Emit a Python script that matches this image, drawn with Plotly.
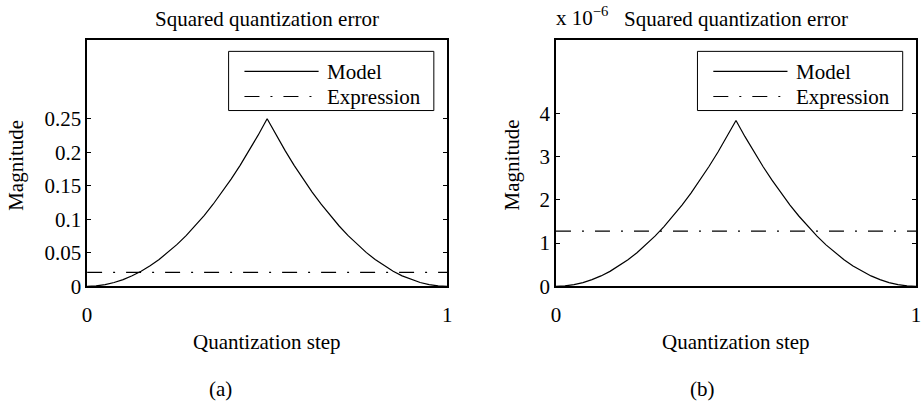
import plotly.graph_objects as go
from plotly.subplots import make_subplots

# ---- data ----
step = [0.0, 0.025, 0.05, 0.075, 0.1, 0.125, 0.15, 0.175, 0.2, 0.225, 0.25,
        0.275, 0.3, 0.325, 0.35, 0.375, 0.4, 0.425, 0.45, 0.475, 0.5,
        0.525, 0.55, 0.575, 0.6, 0.625, 0.65, 0.675, 0.7, 0.725, 0.75,
        0.775, 0.8, 0.825, 0.85, 0.875, 0.9, 0.925, 0.95, 0.975, 1.0]
model_a = [0.0, 0.0006, 0.0025, 0.0056, 0.01, 0.0156, 0.0225, 0.0306, 0.04, 0.0506, 0.0625,
           0.0756, 0.09, 0.1056, 0.1225, 0.1406, 0.16, 0.1806, 0.2025, 0.2256, 0.25,
           0.2256, 0.2025, 0.1806, 0.16, 0.1406, 0.1225, 0.1056, 0.09, 0.0756, 0.0625,
           0.0506, 0.04, 0.0306, 0.0225, 0.0156, 0.01, 0.0056, 0.0025, 0.0006, 0.0]
expr_a = [0.0208] * len(step)
# panel (b) values in units of 1e-6
model_b = [0.0, 0.0096, 0.0384, 0.0864, 0.1536, 0.24, 0.3456, 0.4704, 0.6144, 0.7776, 0.96,
           1.1616, 1.3824, 1.6224, 1.8816, 2.16, 2.4576, 2.7744, 3.1104, 3.4656, 3.84,
           3.4656, 3.1104, 2.7744, 2.4576, 2.16, 1.8816, 1.6224, 1.3824, 1.1616, 0.96,
           0.7776, 0.6144, 0.4704, 0.3456, 0.24, 0.1536, 0.0864, 0.0384, 0.0096, 0.0]
expr_b = [1.28] * len(step)

yticks_a = [0, 0.05, 0.1, 0.15, 0.2, 0.25]
yticktext_a = ["0", "0.05", "0.1", "0.15", "0.2", "0.25"]
yticks_b = [0, 1, 2, 3, 4]
yticktext_b = ["0", "1", "2", "3", "4"]
xticks = [0, 1]
xticktext = ["0", "1"]

title_text = "Squared quantization error"
xlabel = "Quantization step"
ylabel = "Magnitude"
legend_names = ["Model", "Expression"]
panel_labels = ["(a)", "(b)"]

W, H = 923, 406
FONT = "Liberation Serif, Times New Roman, serif"
FS = 21
DASH = "15px,11px,2px,11px"

fig = make_subplots(rows=1, cols=2)

fig.add_trace(go.Scatter(x=step, y=model_a, mode="lines", name=legend_names[0],
                         line=dict(color="black", width=1.2), showlegend=False), 1, 1)
fig.add_trace(go.Scatter(x=step, y=expr_a, mode="lines", name=legend_names[1],
                         line=dict(color="black", width=1.2, dash=DASH), showlegend=False), 1, 1)
fig.add_trace(go.Scatter(x=step, y=model_b, mode="lines", name=legend_names[0],
                         line=dict(color="black", width=1.2), showlegend=False), 1, 2)
fig.add_trace(go.Scatter(x=step, y=expr_b, mode="lines", name=legend_names[1],
                         line=dict(color="black", width=1.2, dash=DASH), showlegend=False), 1, 2)

# axes domains in pixels
ax_left = [83, 557]
ax_w = 364
ax_top, ax_bot = 41, 295

def px2x(p):
    return p / W

def py2y(p):
    return 1 - p / H

common_x = dict(range=[0, 1], tickvals=xticks, ticktext=xticktext, showgrid=False,
                zeroline=False, showline=True, linecolor="black", linewidth=1.5,
                mirror="ticks", ticks="inside", ticklen=4, tickcolor="black",
                tickfont=dict(family=FONT, size=FS, color="black"),
                ticklabelstandoff=9)
common_y = dict(showgrid=False, zeroline=False, showline=True, linecolor="black",
                linewidth=1.5, mirror="ticks", ticks="inside", ticklen=4, tickcolor="black",
                tickfont=dict(family=FONT, size=FS, color="black"))

fig.update_layout(
    xaxis=dict(domain=[px2x(ax_left[0]), px2x(ax_left[0] + ax_w)], **common_x),
    xaxis2=dict(domain=[px2x(ax_left[1]), px2x(ax_left[1] + ax_w)], **common_x),
    yaxis=dict(domain=[py2y(ax_bot), py2y(ax_top)], range=[0, 0.368],
               tickvals=yticks_a, ticktext=yticktext_a, **common_y),
    yaxis2=dict(domain=[py2y(ax_bot), py2y(ax_top)], range=[0, 5.71],
                tickvals=yticks_b, ticktext=yticktext_b, **common_y),
    width=W, height=H,
    margin=dict(l=0, r=0, t=0, b=0),
    paper_bgcolor="white", plot_bgcolor="white",
    showlegend=False,
    font=dict(family=FONT, size=FS, color="black"),
)

annotations = []
shapes = []
for i, (xr, yr) in enumerate([("x domain", "y domain"), ("x2 domain", "y2 domain")]):
    cx = ax_left[i] + ax_w / 2
    # title
    annotations.append(dict(text=title_text, x=px2x(cx), y=py2y(20), xref="paper", yref="paper",
                            xanchor="center", yanchor="middle", showarrow=False,
                            font=dict(family=FONT, size=FS)))
    # x label
    annotations.append(dict(text=xlabel, x=px2x(cx), y=py2y(352), xref="paper", yref="paper",
                            xanchor="center", yanchor="middle", showarrow=False,
                            font=dict(family=FONT, size=FS)))
    # y label
    ylx = 11 if i == 0 else 513
    annotations.append(dict(text=ylabel, x=px2x(ylx), y=py2y((ax_top + ax_bot) / 2 + 2),
                            xref="paper", yref="paper", textangle=-90,
                            xanchor="center", yanchor="middle", showarrow=False,
                            font=dict(family=FONT, size=FS)))
    # panel label
    plx = 218 if i == 0 else 705
    annotations.append(dict(text=panel_labels[i], x=px2x(plx), y=py2y(401), xref="paper",
                            yref="paper", xanchor="center", yanchor="middle", showarrow=False,
                            font=dict(family=FONT, size=FS)))
    # legend box
    shapes.append(dict(type="rect", xref=xr, yref=yr, x0=0.393, x1=0.963, y0=0.713, y1=0.953,
                       line=dict(color="black", width=1), fillcolor="white", layer="above"))
    for j, (ly, dash) in enumerate([(0.872, "solid"), (0.770, DASH)]):
        shapes.append(dict(type="line", xref=xr, yref=yr, x0=0.437, x1=0.643, y0=ly, y1=ly,
                           line=dict(color="black", width=1.2, dash=dash), layer="above"))
        annotations.append(dict(text=legend_names[j], x=0.66, y=ly - 0.004, xref=xr, yref=yr,
                                xanchor="left", yanchor="middle", showarrow=False,
                                font=dict(family=FONT, size=FS)))

# exponent label for panel (b)
annotations.append(dict(text="x 10<sup>\u22126</sup>", x=px2x(555), y=py2y(17), xref="paper",
                        yref="paper", xanchor="left", yanchor="middle", showarrow=False,
                        font=dict(family=FONT, size=FS)))

fig.update_layout(annotations=annotations, shapes=shapes)
fig.write_html("out.html")
